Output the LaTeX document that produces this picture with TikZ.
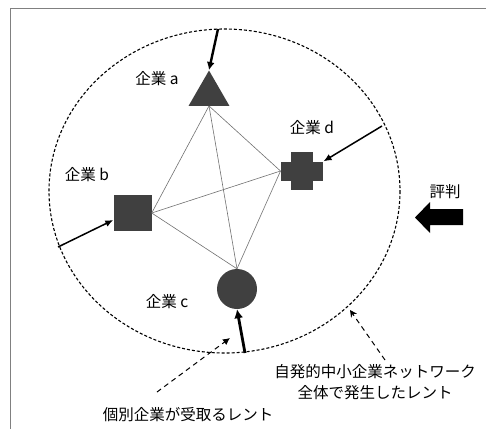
\documentclass[tikz,border=0pt]{standalone}
\usepackage{fontspec}
\newfontfamily\jp{Noto Sans CJK JP}
\usepackage{tikz}
\usetikzlibrary{shapes.geometric}
\usetikzlibrary{arrows.meta}
\usetikzlibrary{calc}
\definecolor{firmgray}{HTML}{404040}
\definecolor{linkgray}{HTML}{707070}

\begin{document}
\begin{tikzpicture}[>/.tip={Latex}, x=1pt, y=-1pt,
	firm/.style={fill=firmgray,inner sep=0pt},
	link/.style={draw=linkgray,line width=0.6pt},
	txt/.style={font=\jp\fontsize{15.5}{21}\selectfont,inner sep=0pt}]
	\useasboundingbox (0,0) rectangle (486,429);
	\draw[line width=0.8pt,gray] (486,8) -- (10,8) -- (10,429);
	\draw[line width=1.1pt,dash pattern=on 3pt off 2pt] (224.5,191) ellipse [x radius=175.5, y radius=162];
	% firms
	\draw (209,94) node (a) [firm,regular polygon,regular polygon sides=3,minimum size=47pt] {};
	\draw (132.5,213) node (b) [firm,shape=rectangle,minimum width=38pt,minimum height=36pt] {};
	\draw (237,289) node (c) [firm,circle,minimum size=40pt] {};
	\draw (302,171) node (dh) [firm,shape=rectangle,minimum width=42.6pt,minimum height=19pt] {};
	\draw (302,171) node (dv) [firm,shape=rectangle,minimum width=22.6pt,minimum height=38.3pt] {};
	\draw (157,79) node (la) [txt] {企業 a};
	\draw (87,175) node (lb) [txt] {企業 b};
	\draw (167,302) node (lc) [txt] {企業 c};
	\draw (312,128) node (ld) [txt] {企業 d};
	% network
	\draw[link] (a.side 2) -- (b.east);
	\draw[link] (a.side 2) -- (dh.west);
	\draw[link] (a.side 2) -- (c.north);
	\draw[link] (b.east) -- (dh.west);
	\draw[link] (b.east) -- (c.north);
	\draw[link] (dh.west) -- (c.north);
	% rents into each firm
	\coordinate (ea) at (218,29);
	\coordinate (eb) at (58,247);
	\coordinate (ec) at (245,353);
	\coordinate (ed) at (382,126);
	\draw[->,line width=2.4pt,>={Latex[length=8pt,width=8pt]}] (ea) -- (a.corner 1);
	\draw[->,line width=1.5pt,>={Latex[length=8pt,width=7pt]}] (eb) -- ([yshift=-7pt]b.west);
	\draw[->,line width=2.8pt,>={Latex[length=9pt,width=9pt]}] (ec) -- (c.south);
	\draw[->,line width=1.5pt,>={Latex[length=8pt,width=7pt]}] (ed) -- (dh.north east);
	% reputation
	\draw (445,192) node (rep) [txt] {評判};
	\fill (463,209) -- (430,209) -- (430,202) -- (415,217.5) -- (430,233) -- (430,225) -- (463,225) -- cycle;
	% labels
	\draw (375,382) node (net) [txt,align=center] {自発的中小企業ネットワーク\\全体で発生したレント};
	\draw (188,415) node (ind) [txt] {個別企業が受取るレント};
	\coordinate (s1) at (157,392);
	\coordinate (t1) at (230,338);
	\coordinate (s2) at (385,360);
	\coordinate (t2) at (350,310);
	\draw[->,line width=1pt,dash pattern=on 5pt off 4pt,>={Latex[length=7pt,width=7pt]}] (s1) -- (t1);
	\draw[->,line width=1pt,dash pattern=on 5pt off 4pt,>={Stealth[length=7pt,width=7pt]}] (s2) -- (t2);
\end{tikzpicture}
\end{document}
